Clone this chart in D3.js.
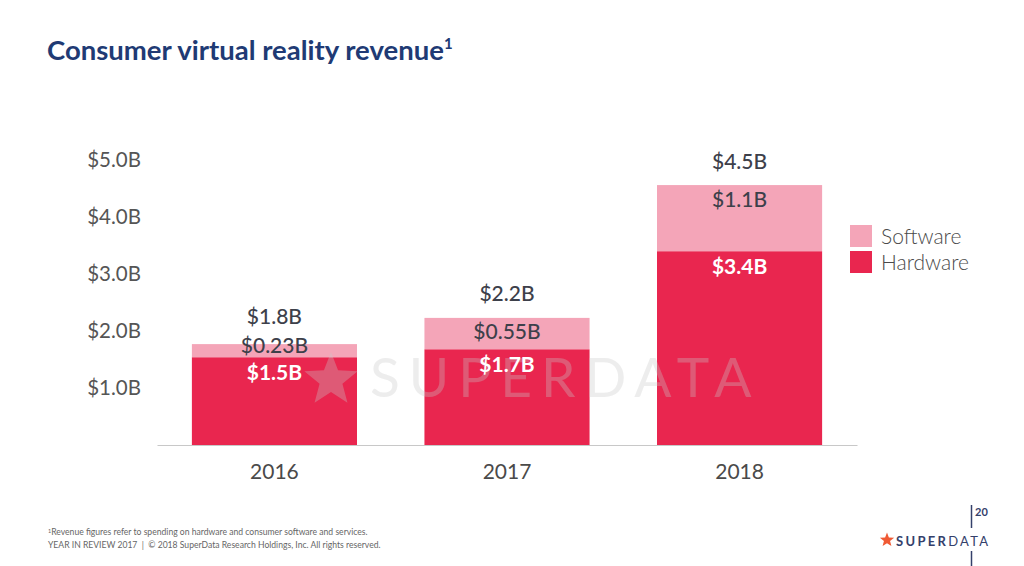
<!DOCTYPE html>
<html><head><meta charset="utf-8">
<script src="https://cdn.jsdelivr.net/npm/d3@7"></script>
<style>body{margin:0;background:#fff;} svg{display:block;font-family:Lato,"Open Sans",sans-serif;}</style>
</head><body>
<svg id="chart" width="1024" height="566"></svg>
<script>
const years = ["2016", "2017", "2018"];
const hardware = [1.54, 1.68, 3.40];
const software = [0.23, 0.55, 1.16];
const hardwareLabels = ["$1.5B", "$1.7B", "$3.4B"];
const softwareLabels = ["$0.23B", "$0.55B", "$1.1B"];
const totalLabels = ["$1.8B", "$2.2B", "$4.5B"];
const tickValues = [1, 2, 3, 4, 5];
const tickLabels = ["$1.0B", "$2.0B", "$3.0B", "$4.0B", "$5.0B"];
const seriesNames = ["Software", "Hardware"];

const colors = {Hardware: "#e9264f", Software: "#f4a5b8"};
const svg = d3.select("#chart");

const x = d3.scaleBand().domain(years).range([157, 857]).paddingInner(0.29).paddingOuter(0.15);
const y = d3.scaleLinear().domain([0, 5]).range([445, 160]);

// title
const title = svg.append("text").attr("x", 47).attr("y", 60)
  .attr("fill", "#203a74").attr("font-size", 27.5).attr("font-weight", 700)
  .text("Consumer virtual reality revenue");
title.append("tspan").attr("font-size", 15).attr("dy", -11).text("1");

// y axis labels
const yAxis = d3.axisLeft(y).tickValues(tickValues).tickFormat((d, i) => tickLabels[i]).tickSize(0).tickPadding(0);
const ga = svg.append("g").attr("transform", "translate(141,0)").call(yAxis);
ga.select(".domain").remove();
ga.selectAll("text").attr("font-size", 20.5).attr("fill", "#555").attr("font-family", "Lato").attr("font-weight", 400);

// x axis
const xAxis = d3.axisBottom(x).tickSize(0).tickPadding(19);
const gx = svg.append("g").attr("transform", "translate(0,445)").call(xAxis);
gx.select(".domain").attr("stroke", "#c8c8c8").attr("stroke-width", 1.2);
gx.selectAll("text").attr("font-size", 21).attr("fill", "#4a4a4a").attr("font-family", "Lato").attr("font-weight", 400);

// bars
const bars = svg.append("g");
years.forEach((yr, i) => {
  bars.append("rect").attr("x", x(yr)).attr("width", x.bandwidth())
    .attr("y", y(hardware[i])).attr("height", y(0) - y(hardware[i])).attr("fill", colors.Hardware);
  bars.append("rect").attr("x", x(yr)).attr("width", x.bandwidth())
    .attr("y", y(hardware[i] + software[i])).attr("height", y(hardware[i]) - y(hardware[i] + software[i])).attr("fill", colors.Software);
});

// watermark
const wm = svg.append("g").attr("opacity", 0.32);
const starPath = (cx, cy, R, r) => {
  const pts = [];
  for (let k = 0; k < 10; k++) {
    const a = -Math.PI / 2 + k * Math.PI / 5;
    const rr = k % 2 === 0 ? R : r;
    pts.push([cx + rr * Math.cos(a), cy + rr * Math.sin(a)]);
  }
  return "M" + pts.map(p => p.join(",")).join("L") + "Z";
};
wm.append("path").attr("d", starPath(331, 380, 28, 12)).attr("fill", "#c9c9c9");
wm.append("text").attr("x", 370).attr("y", 397).attr("font-size", 55).attr("letter-spacing", 9)
  .attr("fill", "#c9c9c9").attr("font-family", "Lato").attr("font-weight", 400).text("SUPERDATA");

// labels (vertical centres, nudged so they never collide)
const fs = 21;
const lab = svg.append("g").attr("text-anchor", "middle").attr("font-family", "Lato").attr("font-size", fs);
years.forEach((yr, i) => {
  const cx = x(yr) + x.bandwidth() / 2;
  const top = y(hardware[i] + software[i]);
  const hwC = y(hardware[i]) + 15;
  const swC = Math.min(top + 14, hwC - 27);
  const totC = Math.min(top - 24, swC - 29);
  const base = c => c + fs * 0.36;
  lab.append("text").attr("x", cx).attr("y", base(totC)).attr("fill", "#3d404a").attr("font-weight", 500).text(totalLabels[i]);
  lab.append("text").attr("x", cx).attr("y", base(swC)).attr("fill", "#3d404a").attr("font-weight", 500).text(softwareLabels[i]);
  lab.append("text").attr("x", cx).attr("y", base(hwC)).attr("fill", "#ffffff").attr("font-weight", 700).text(hardwareLabels[i]);
});

// legend
const leg = svg.append("g");
seriesNames.forEach((s, i) => {
  leg.append("rect").attr("x", 850).attr("y", 225 + i * 26).attr("width", 22).attr("height", 22).attr("fill", colors[s]);
  leg.append("text").attr("x", 881).attr("y", 244 + i * 26).attr("font-size", 21).attr("fill", "#4a4a4a")
    .attr("font-family", "Lato").attr("font-weight", 300).text(s);
});

// footnote
const fn = svg.append("g").attr("font-family", "Lato").attr("font-size", 8.6).attr("fill", "#666");
const f1 = fn.append("text").attr("x", 48).attr("y", 535);
f1.append("tspan").attr("font-size", 5.5).attr("dy", -2.5).text("1");
f1.append("tspan").attr("dy", 2.5).text("Revenue figures refer to spending on hardware and consumer software and services.");
fn.append("text").attr("x", 48).attr("y", 548).text("YEAR IN REVIEW 2017\u00a0\u00a0|\u00a0\u00a0© 2018 SuperData Research Holdings, Inc. All rights reserved.");

// logo
svg.append("line").attr("x1", 971.5).attr("x2", 971.5).attr("y1", 505).attr("y2", 528).attr("stroke", "#34406b").attr("stroke-width", 1.5);
svg.append("line").attr("x1", 971.5).attr("x2", 971.5).attr("y1", 551).attr("y2", 566).attr("stroke", "#34406b").attr("stroke-width", 1.5);
svg.append("text").attr("x", 975).attr("y", 516).attr("font-family", "Lato").attr("font-weight", 700).attr("font-size", 11).attr("fill", "#34406b").text("20");
svg.append("path").attr("d", starPath(887, 540, 7.5, 3.2)).attr("fill", "#f05a34");
const lg = svg.append("text").attr("x", 896).attr("y", 546).attr("font-family", "Lato").attr("font-size", 13).attr("letter-spacing", 2.3).attr("fill", "#34406b");
lg.append("tspan").attr("font-weight", 700).text("SUPER");
lg.append("tspan").attr("font-weight", 400).text("DATA");
</script>
</body></html>
